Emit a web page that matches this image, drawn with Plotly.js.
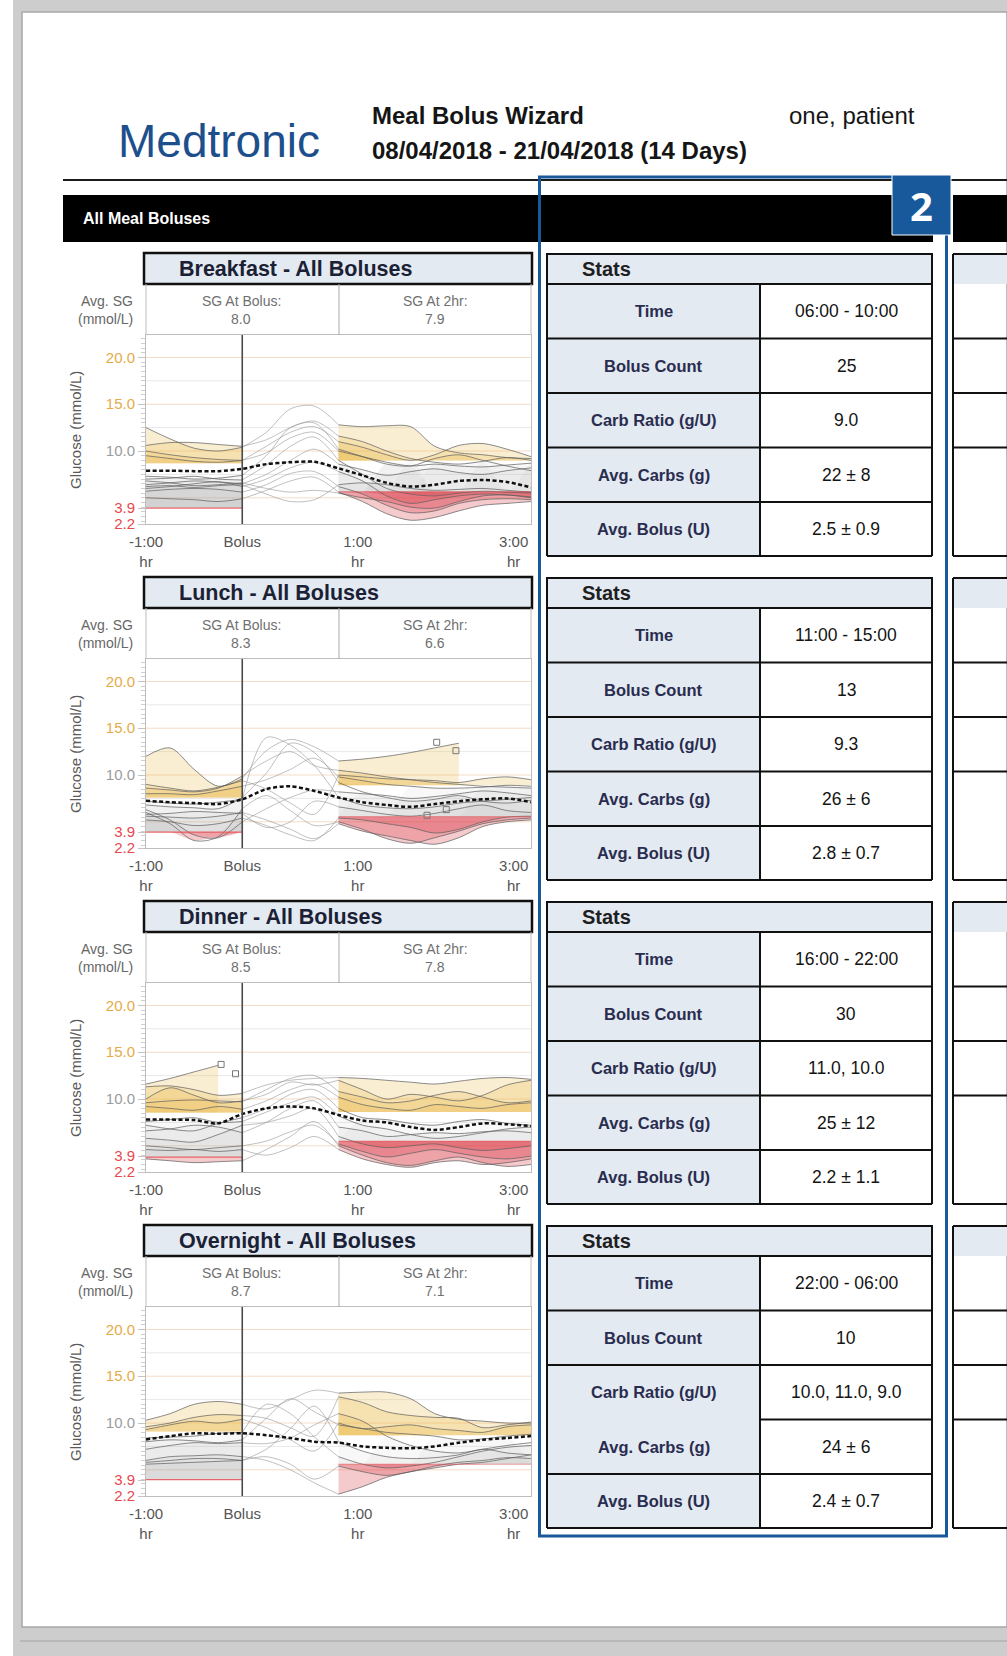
<!DOCTYPE html>
<html><head><meta charset="utf-8">
<script src="https://cdn.plot.ly/plotly-3.0.1.min.js"></script>
<style>html,body{margin:0;padding:0;background:#fff;overflow:hidden}#page{width:1007px;height:1656px}</style>
</head><body><div id="page"></div>
<script>
// ================= DATA =================
const HOURS = [-1, -0.75, -0.5, -0.25, 0, 0.25, 0.5, 0.75, 1, 1.25, 1.5, 1.75, 2, 2.25, 2.5, 2.75, 3];
const X_TICK_VALS = [-1, 0, 1.2, 2.82];
const X_TICK_TEXT = ['-1:00<br>hr', 'Bolus', '1:00<br>hr', '3:00<br>hr'];
const Y_TICK_VALS = [2.2, 3.9, 10, 15, 20];
const Y_TICK_TEXT = ['2.2', '3.9', '10.0', '15.0', '20.0'];
const GRID_VALS = [5, 7.5, 10, 12.5, 15, 17.5, 20];

const MEALS = ['Breakfast', 'Lunch', 'Dinner', 'Overnight'];
const SG_AT_BOLUS = ['8.0', '8.3', '8.5', '8.7'];
const SG_AT_2HR = ['7.9', '6.6', '7.8', '7.1'];

const PRE_HIGH = [8.7, 7.6, 8.55, 9.1];
const PRE_LOW = [3.9, 3.9, 3.8, 3.95];
const POST_HIGH = [9.0, 8.9, 8.6, 8.7];
const POST_LOW = [5.65, 5.55, 5.5, 5.6];

const STAT_LABELS = ['Time', 'Bolus Count', 'Carb Ratio (g/U)', 'Avg. Carbs (g)', 'Avg. Bolus (U)'];
const STAT_TIME = ['06:00 - 10:00', '11:00 - 15:00', '16:00 - 22:00', '22:00 - 06:00'];
const STAT_COUNT = ['25', '13', '30', '10'];
const STAT_RATIO = ['9.0', '9.3', '11.0, 10.0', '10.0, 11.0, 9.0'];
const STAT_CARBS = ['22 ± 8', '26 ± 6', '25 ± 12', '24 ± 6'];
const STAT_BOLUS = ['2.5 ± 0.9', '2.8 ± 0.7', '2.2 ± 1.1', '2.4 ± 0.7'];

const breakfastAvg = [7.9, 7.9, 7.85, 7.85, 8.1, 8.6, 8.8, 8.85, 8.15, 7.4, 6.6, 6.2, 6.4, 6.8, 6.9, 6.7, 6.1];
const breakfastTraces = [
  [12.5, 11.3, 10.3, 10.0, 10.4, 12.0, 14.5, 14.8, 12.8, 12.6, 12.7, 12.6, 10.5, 9.8, 9.6, 9.3, 9.2],
  [10.6, 10.9, 10.9, 10.7, 10.5, 11.2, 12.5, 13.2, 11.6, 11.0, 10.0, 9.2, 8.8, 8.6, 8.9, 9.3, 9.0],
  [10.0, 9.6, 9.3, 9.1, 9.0, 10.5, 12.0, 12.6, 11.0, 10.4, 9.6, 9.0, 9.6, 10.6, 10.8, 10.2, 9.4],
  [9.5, 9.2, 8.9, 8.8, 9.0, 9.8, 11.4, 12.0, 10.0, 9.4, 8.8, 8.4, 8.6, 8.4, 8.3, 8.5, 8.7],
  [6.4, 6.6, 6.8, 6.7, 6.5, 7.5, 9.0, 10.2, 8.6, 8.0, 7.4, 7.8, 8.1, 7.7, 7.5, 7.9, 8.2],
  [6.0, 6.2, 6.5, 6.7, 6.2, 7.0, 8.2, 8.8, 7.8, 6.8, 5.2, 4.4, 4.8, 5.2, 5.4, 5.3, 5.1],
  [5.7, 5.9, 6.0, 5.9, 5.6, 6.4, 7.6, 7.8, 6.2, 5.4, 4.2, 3.4, 3.6, 4.4, 4.8, 4.9, 4.8],
  [5.0, 4.9, 4.8, 4.6, 4.9, 5.8, 6.8, 7.2, 5.6, 4.6, 3.3, 2.6, 2.9, 3.6, 4.2, 4.4, 4.6],
  [7.0, 7.1, 7.3, 7.0, 6.9, 8.5, 10.5, 11.5, 9.0, 7.5, 6.0, 5.4, 5.2, 5.5, 5.7, 5.6, 5.5],
  [6.8, 6.6, 6.3, 6.4, 6.6, 6.0, 5.6, 5.8, 5.5, 5.0, 4.6, 4.0, 3.9, 4.6, 5.2, 5.3, 5.0],
  [7.3, 7.2, 7.0, 7.1, 7.4, 9.5, 12.5, 13.0, 10.2, 9.4, 8.6, 8.4, 9.2, 9.6, 9.0, 8.4, 7.9],
  [6.2, 6.3, 6.1, 6.3, 6.4, 5.4, 4.6, 4.8, 6.4, 6.6, 6.4, 6.0, 5.8, 5.9, 6.0, 5.8, 5.6]
];

const lunchAvg = [7.25, 7.1, 7.0, 6.9, 7.4, 8.5, 8.8, 8.3, 7.6, 7.1, 6.8, 6.6, 6.9, 7.2, 7.4, 7.5, 7.1];
const lunchTraces = [
  [12.0, 12.9, 10.6, 8.8, 9.6, 12.6, 13.8, 13.0, 11.5, 11.7, 12.0, 12.4, 12.9, 13.4, null, null, null],
  [8.6, 8.4, 8.2, 8.6, 9.9, 11.5, 12.5, 11.0, 10.5, 10.2, 9.8, 9.5, 9.2, 9.0, 8.8, 8.7, 8.6],
  [8.0, 8.0, 7.9, 8.3, 8.8, 9.5, 10.6, 11.8, 9.8, 9.4, 9.0, 8.8, 8.6, 8.6, 8.7, 8.9, 8.8],
  [6.3, 5.2, 3.6, 3.3, 5.0, 6.4, 7.6, 8.4, 8.2, 8.0, 7.8, 7.5, 7.7, 8.0, 8.3, 8.1, 7.8],
  [6.0, 4.8, 3.0, 3.4, 6.4, 7.8, 6.2, 4.6, 5.0, 4.2, 3.2, 2.7, 3.3, 4.0, 4.8, 5.2, 5.4],
  [5.6, 5.5, 5.4, 5.6, 6.0, 5.2, 4.2, 3.2, 4.8, 4.0, 3.5, 3.0, 2.6, 3.3, 4.5, 5.0, 5.2],
  [5.2, 5.0, 4.6, 4.8, 5.4, 4.6, 3.6, 3.0, 5.4, 5.2, 4.8, 4.4, 3.8, 4.2, 5.0, 5.5, 5.6],
  [6.8, 6.6, 6.5, 6.4, 7.6, 10.2, 13.4, 12.4, 9.2, 8.2, 7.6, 7.2, 7.4, 7.8, 7.2, 7.0, 7.3],
  [7.2, 7.0, 6.9, 7.1, 7.4, 14.0, 13.2, 11.0, 7.6, 6.8, 6.5, 6.4, 6.6, 7.0, 7.2, 7.4, 7.6],
  [5.8, 5.9, 6.1, 6.0, 5.9, 4.4, 5.0, 7.2, 6.6, 6.2, 5.8, 5.6, 5.9, 6.4, 6.8, 6.2, 6.0],
  [9.0, 8.6, 8.3, 8.7, 9.4, 8.5, 7.0, 5.8, 10.0, 9.8, 9.6, 9.5, 9.4, 9.2, 9.6, 9.8, 9.5]
];
const lunchMarkX = [2.02, 2.22, 1.92, 2.12];
const lunchMarkY = [13.5, 12.6, 5.7, 6.3];

const dinnerAvg = [7.8, 7.8, 7.75, 7.4, 8.4, 9.0, 9.2, 9.0, 8.3, 7.7, 7.5, 7.0, 6.7, 7.0, 7.4, 7.3, 7.1];
const dinnerTraces = [
  [11.6, 12.2, 12.9, 13.6, null, null, null, null, null, null, null, null, null, null, null, null, null],
  [11.3, 11.4, 11.0, 10.4, 10.6, 11.5, 12.0, 12.2, 12.3, 12.2, 12.0, 11.8, 11.6, 11.9, 12.2, 12.3, 12.1],
  [10.0, 11.2, 10.4, 9.6, 9.8, 10.5, 11.8, 11.5, 12.0, 11.0, 10.0, 10.5, 10.2, 9.8, 10.4, 11.5, 12.0],
  [9.6, 9.8, 9.9, 9.8, 9.7, 11.0, 12.2, 12.5, 10.8, 10.2, 9.6, 9.8, 10.4, 10.8, 10.2, 9.6, 9.8],
  [9.2, 9.0, 8.8, 9.2, 8.9, 9.8, 11.0, 11.6, 10.2, 9.4, 9.0, 8.8, 9.4, 9.2, 9.0, 9.4, 9.6],
  [7.2, 6.8, 6.6, 7.4, 8.0, 9.0, 10.5, 11.0, 9.0, 8.0, 7.8, 7.4, 7.2, 7.6, 7.8, 7.4, 7.2],
  [6.6, 6.8, 7.2, 7.0, 6.4, 7.5, 9.0, 9.8, 7.0, 6.6, 6.0, 6.2, 6.4, 6.3, 6.5, 6.6, 6.4],
  [5.8, 5.6, 5.4, 6.2, 7.2, 7.5, 8.2, 9.0, 6.0, 5.2, 4.8, 5.0, 5.2, 4.8, 4.5, 4.7, 5.0],
  [5.0, 4.8, 4.6, 4.8, 5.0, 5.5, 6.5, 7.2, 5.2, 4.4, 3.8, 4.2, 4.6, 4.2, 3.8, 3.6, 3.9],
  [4.6, 4.5, 4.6, 4.4, 4.6, 4.0, 4.8, 6.0, 4.6, 3.6, 3.0, 2.7, 3.2, 3.4, 3.0, 3.2, 3.6],
  [3.6, 3.4, 3.2, 3.3, 3.4, 4.6, 6.0, 7.6, 5.0, 4.0, 3.2, 2.9, 3.4, 3.8, 3.2, 2.8, 3.0],
  [7.6, 7.8, 8.0, 7.5, 7.6, 8.6, 9.6, 10.2, 8.2, 7.2, 6.8, 6.2, 5.8, 6.0, 6.4, 6.8, 7.0]
];
const dinnerMarkX = [-0.22, -0.07];
const dinnerMarkY = [13.7, 12.7];

const overnightAvg = [8.25, 8.6, 8.9, 8.85, 8.9, 8.7, 8.4, 8.0, 7.9, 7.5, 7.35, 7.3, 7.5, 7.9, 8.2, 8.4, 8.6];
const overnightTraces = [
  [10.3, 11.0, 12.0, 12.3, 12.0, 11.5, 12.5, 13.5, 13.2, 13.3, 13.3, 12.6, 11.0, 10.4, 10.2, 10.0, 10.0],
  [9.6, 10.0, 10.6, 10.9, 10.8, 10.5, 9.5, 8.6, 12.8, 12.2, 11.2, 10.8, 10.6, 10.5, 9.5, 9.8, 10.1],
  [9.3, 9.8, 10.2, 10.0, 10.4, 9.5, 8.2, 7.0, 10.0, 9.4, 9.6, 9.8, 9.4, 9.2, 9.0, 9.6, 9.8],
  [7.2, 7.6, 7.9, 7.8, 7.9, 7.8, 8.4, 9.8, 11.0, 10.2, 8.6, 7.6, 7.0, 6.8, 7.2, 7.6, 7.9],
  [6.0, 6.4, 6.5, 6.6, 6.4, 6.0, 5.0, 3.6, 2.4, 3.2, 4.2, 4.8, 5.2, 5.6, 5.8, 6.2, 6.6],
  [5.8, 6.0, 6.2, 6.2, 6.0, 6.4, 5.6, 4.0, 5.4, 4.8, 4.4, 4.8, 5.4, 5.8, 6.0, 6.3, 6.2],
  [5.6, 5.7, 5.8, 5.9, 6.0, 7.2, 9.4, 11.8, 8.0, 7.0, 6.4, 6.2, 6.3, 6.6, 7.2, 6.8, 6.6],
  [8.0, 8.2, 8.1, 7.9, 8.2, 10.5, 12.6, 11.2, 9.8, 9.4, 9.0, 8.8, 8.6, 8.2, 8.3, 8.6, 8.8],
  [8.4, 8.5, 8.6, 8.9, 9.0, 12.0, 11.0, 8.5, 6.4, 5.6, 5.2, 5.4, 5.8, 6.4, 7.0, 7.4, 7.6]
];

const PANEL_AVG = [breakfastAvg, lunchAvg, dinnerAvg, overnightAvg];
const PANEL_TRACES = [breakfastTraces, lunchTraces, dinnerTraces, overnightTraces];
const PANEL_MARK_X = [[], lunchMarkX, dinnerMarkX, []];
const PANEL_MARK_Y = [[], lunchMarkY, dinnerMarkY, []];

// ================= GEOMETRY & STYLE =================
const W = 1007, H = 1656, STEP = 324;
const PLOT_L = 146, PLOT_R = 531, PLOT_T = 335, PLOT_B = 524;
const TAB_L = 547, TAB_M = 760, TAB_R = 932;
const TAB_ROWS = [284, 338.5, 393, 447.5, 502, 556];
const FONT = 'Liberation Sans, Arial, sans-serif';
const LIGHTBLUE = '#e3eaf2';
const BLUE = '#17599a';
const YELLOW = 'rgba(236,190,80,0.26)';
const RED = 'rgba(218,66,74,0.28)';
const GRAYF = 'rgba(165,165,165,0.08)';
const Y_TICK_COLORS = ['#e8474e', '#e8474e', '#9c9c9c', '#e4ab48', '#e4ab48'];

const px = v => v / W;
const py = v => 1 - v / H;

const shapes = [];
const annotations = [];
const data = [];

function rect(x0, y0, x1, y1, fill, lc, lw, layer) {
  shapes.push({type: 'rect', xref: 'paper', yref: 'paper', x0: px(x0), x1: px(x1), y0: py(y1), y1: py(y0),
    fillcolor: fill || 'rgba(0,0,0,0)', line: {color: lc || 'rgba(0,0,0,0)', width: lw || 0}, layer: layer || 'above'});
}
function hline(x0, x1, y, color, width, layer) {
  shapes.push({type: 'line', xref: 'paper', yref: 'paper', x0: px(x0), x1: px(x1), y0: py(y), y1: py(y),
    line: {color, width}, layer: layer || 'above'});
}
function vline(x, y0, y1, color, width, layer) {
  shapes.push({type: 'line', xref: 'paper', yref: 'paper', x0: px(x), x1: px(x), y0: py(y0), y1: py(y1),
    line: {color, width}, layer: layer || 'above'});
}
function txt(x, y, text, size, color, xanchor, family, extra) {
  annotations.push(Object.assign({xref: 'paper', yref: 'paper', x: px(x), y: py(y), text, showarrow: false,
    xanchor: xanchor || 'center', yanchor: 'middle', font: {family: family || FONT, size, color}}, extra || {}));
}

// ---- page frame ----
rect(13, 0, 1007, 1656, '#cdcdcd', null, 0, 'below');
rect(22, 12, 1007, 1627, '#ffffff', '#a8a8a8', 1.5, 'below');
hline(20, 1007, 1641, '#b0b0b0', 1.5, 'below');

// ---- report header ----
txt(116, 141, 'Medtronic', 46, '#1e4f8d', 'left', FONT);
txt(370, 116, '<b>Meal Bolus Wizard</b>', 24, '#151515', 'left', FONT);
txt(370, 151, '<b>08/04/2018 - 21/04/2018 (14 Days)</b>', 24, '#151515', 'left', FONT);
txt(787, 116, 'one, patient', 24, '#151515', 'left', FONT);
hline(63, 1007, 180, '#1a1a1a', 2);
rect(63, 195, 933, 242, '#000000');
rect(953, 195, 1007, 242, '#000000');
txt(81, 218, '<b>All Meal Boluses</b>', 16, '#ffffff', 'left', FONT);

// ---- panels ----
const layout = {
  width: W, height: H, margin: {l: 0, r: 0, t: 0, b: 0},
  paper_bgcolor: '#ffffff', plot_bgcolor: 'rgba(0,0,0,0)',
  showlegend: false, hovermode: false
};

function fillPair(ax, xs, base, ys, color) {
  data.push({x: xs, y: xs.map(() => base), xaxis: ax.x, yaxis: ax.y, mode: 'lines',
    line: {width: 0, shape: 'spline', smoothing: 0.8}, hoverinfo: 'skip'});
  data.push({x: xs, y: ys, xaxis: ax.x, yaxis: ax.y, mode: 'lines', fill: 'tonexty', fillcolor: color,
    line: {width: 0, shape: 'spline', smoothing: 0.8}, hoverinfo: 'skip'});
}
function windowPts(vals, i0, i1) {
  const xs = [], ys = [];
  for (let i = i0; i <= i1; i++) if (vals[i] !== null && vals[i] !== undefined) { xs.push(HOURS[i]); ys.push(vals[i]); }
  return {xs, ys};
}
function addFills(ax, vals, i0, i1, high, low) {
  const {xs, ys} = windowPts(vals, i0, i1);
  if (xs.length < 2) return;
  if (ys.some(v => v > high)) fillPair(ax, xs, high, ys.map(v => Math.max(v, high)), YELLOW);
  if (ys.some(v => v < low)) fillPair(ax, xs, low, ys.map(v => Math.min(v, low)), RED);
  if (ys.some(v => v >= low && v <= high)) fillPair(ax, xs, low, ys.map(v => (v > high ? low : Math.max(v, low))), GRAYF);
}
function addLine(ax, vals, i0, i1, color, width) {
  const {xs, ys} = windowPts(vals, i0, i1);
  if (xs.length < 2) return;
  data.push({x: xs, y: ys, xaxis: ax.x, yaxis: ax.y, mode: 'lines',
    line: {color, width, shape: 'spline', smoothing: 0.9}, hoverinfo: 'skip'});
}

for (let p = 0; p < 4; p++) {
  const o = STEP * p;
  const sfx = p === 0 ? '' : String(p + 1);
  const ax = {x: 'x' + sfx, y: 'y' + sfx};

  layout['xaxis' + sfx] = {
    domain: [px(PLOT_L), px(PLOT_R)], range: [-1, 3], anchor: ax.y,
    tickvals: X_TICK_VALS, ticktext: X_TICK_TEXT, ticks: '', showgrid: false, zeroline: false,
    showline: true, mirror: true, linecolor: '#bdbdbd', linewidth: 1, ticklabelstandoff: 4,
    tickfont: {family: FONT, size: 15, color: '#555'}, fixedrange: true
  };
  layout['yaxis' + sfx] = {
    domain: [py(PLOT_B + o), py(PLOT_T + o)], range: [2.2, 22.4], anchor: ax.x,
    tickvals: Y_TICK_VALS,
    ticktext: Y_TICK_TEXT.map((t, i) => '<span style="color:' + Y_TICK_COLORS[i] + '">' + t + '</span>'),
    ticks: 'outside', ticklen: 7, tickcolor: '#c4c4c4', showgrid: false, zeroline: false,
    showline: true, mirror: true, linecolor: '#bdbdbd', linewidth: 1,
    minor: {ticks: 'outside', ticklen: 4, dtick: 0.5, tickcolor: '#cfcfcf', showgrid: false},
    tickfont: {family: FONT, size: 15}, fixedrange: true
  };

  GRID_VALS.forEach(g => {
    shapes.push({type: 'line', xref: ax.x + ' domain', yref: ax.y, x0: 0, x1: 1, y0: g, y1: g,
      line: {color: (g % 5 === 0) ? '#f6dcc6' : '#e9e9e9', width: 1}, layer: 'below'});
  });
  shapes.push({type: 'line', xref: ax.x, yref: ax.y, x0: -1, x1: 0, y0: PRE_LOW[p], y1: PRE_LOW[p],
    line: {color: 'rgba(232,80,86,0.85)', width: 1.2}, layer: 'above'});
  shapes.push({type: 'line', xref: ax.x, yref: ax.y, x0: 1, x1: 3, y0: POST_LOW[p], y1: POST_LOW[p],
    line: {color: 'rgba(232,80,86,0.55)', width: 1}, layer: 'above'});
  shapes.push({type: 'line', xref: ax.x, yref: ax.y + ' domain', x0: 0, x1: 0, y0: 0, y1: 1,
    line: {color: '#4a4a4a', width: 1.6}, layer: 'above'});

  PANEL_TRACES[p].forEach(v => {
    addFills(ax, v, 0, 4, PRE_HIGH[p], PRE_LOW[p]);
    addFills(ax, v, 8, 16, POST_HIGH[p], POST_LOW[p]);
  });
  PANEL_TRACES[p].forEach(v => {
    addLine(ax, v, 4, 8, 'rgba(150,150,150,0.75)', 0.8);
    addLine(ax, v, 0, 4, 'rgba(95,95,95,0.8)', 0.9);
    addLine(ax, v, 8, 16, 'rgba(95,95,95,0.8)', 0.9);
  });
  data.push({x: HOURS, y: PANEL_AVG[p], xaxis: ax.x, yaxis: ax.y, mode: 'lines',
    line: {color: '#111', width: 2.5, dash: '4px,2.5px', shape: 'spline', smoothing: 0.8}, hoverinfo: 'skip'});
  if (PANEL_MARK_X[p].length) {
    data.push({x: PANEL_MARK_X[p], y: PANEL_MARK_Y[p], xaxis: ax.x, yaxis: ax.y, mode: 'markers',
      marker: {symbol: 'square-open', size: 6, color: '#777', line: {width: 1}}, hoverinfo: 'skip'});
  }

  rect(144, 253 + o, 532, 284 + o, LIGHTBLUE, '#111', 2.5);
  txt(177, 269 + o, '<b>' + MEALS[p] + ' - All Boluses</b>', 21.5, '#1b2135', 'left', FONT);
  vline(PLOT_L, 284 + o, PLOT_T + o, '#bdbdbd', 1);
  vline(PLOT_R, 284 + o, PLOT_T + o, '#bdbdbd', 1);
  vline(339, 284 + o, PLOT_T + o, '#a9a9a9', 1);
  txt(135, 301 + o, 'Avg. SG', 14, '#666', 'right');
  txt(135, 319 + o, '(mmol/L)', 14, '#666', 'right');
  txt(241, 301 + o, 'SG At Bolus:', 14, '#707070');
  txt(241, 319 + o, SG_AT_BOLUS[p], 14, '#707070');
  txt(435, 301 + o, 'SG At 2hr:', 14, '#707070');
  txt(435, 319 + o, SG_AT_2HR[p], 14, '#707070');
  txt(75, 430 + o, 'Glucose (mmol/L)', 15, '#5a5a5a', 'center', FONT, {textangle: -90});

  rect(TAB_L, 254 + o, TAB_R, 284 + o, LIGHTBLUE, '#111', 2);
  rect(TAB_L, 284 + o, TAB_M, 556 + o, LIGHTBLUE);
  txt(580, 269 + o, '<b>Stats</b>', 20, '#202020', 'left');
  const statVals = [STAT_TIME[p], STAT_COUNT[p], STAT_RATIO[p], STAT_CARBS[p], STAT_BOLUS[p]];
  TAB_ROWS.forEach((r, k) => {
    if (p === 3 && k === 3) hline(TAB_M, TAB_R, r + o, '#111', 2);
    else hline(TAB_L, TAB_R, r + o, '#111', 2);
  });
  vline(TAB_L, 284 + o, 556 + o, '#111', 2);
  vline(TAB_M, 284 + o, 556 + o, '#111', 2);
  vline(TAB_R, 284 + o, 556 + o, '#111', 2);
  for (let k = 0; k < 5; k++) {
    const cy = (TAB_ROWS[k] + TAB_ROWS[k + 1]) / 2 + o;
    txt((TAB_L + TAB_M) / 2, cy, '<b>' + STAT_LABELS[k] + '</b>', 16.5, '#2a2d4f');
    txt((TAB_M + TAB_R) / 2, cy, statVals[k], 17.5, '#141414');
  }
  rect(953, 254 + o, 1010, 284 + o, LIGHTBLUE);
  [254, 338.5, 393, 447.5, 556].forEach(r => hline(953, 1007, r + o, '#111', 2));
  vline(953, 254 + o, 556 + o, '#111', 2);
}

shapes.push({type: 'rect', xref: 'paper', yref: 'paper', x0: px(539.5), x1: px(946.5), y0: py(1536), y1: py(177),
  line: {color: BLUE, width: 3}, fillcolor: 'rgba(0,0,0,0)', layer: 'above'});
rect(892, 175, 951, 235, BLUE, '#ffffff', 1);
txt(921.5, 205, '<b>2</b>', 40, '#ffffff', 'center', 'Open Sans, Liberation Sans, sans-serif');

layout.shapes = shapes;
layout.annotations = annotations;

Plotly.newPlot('page', data, layout, {staticPlot: true, displayModeBar: false});
</script>
</body></html>
